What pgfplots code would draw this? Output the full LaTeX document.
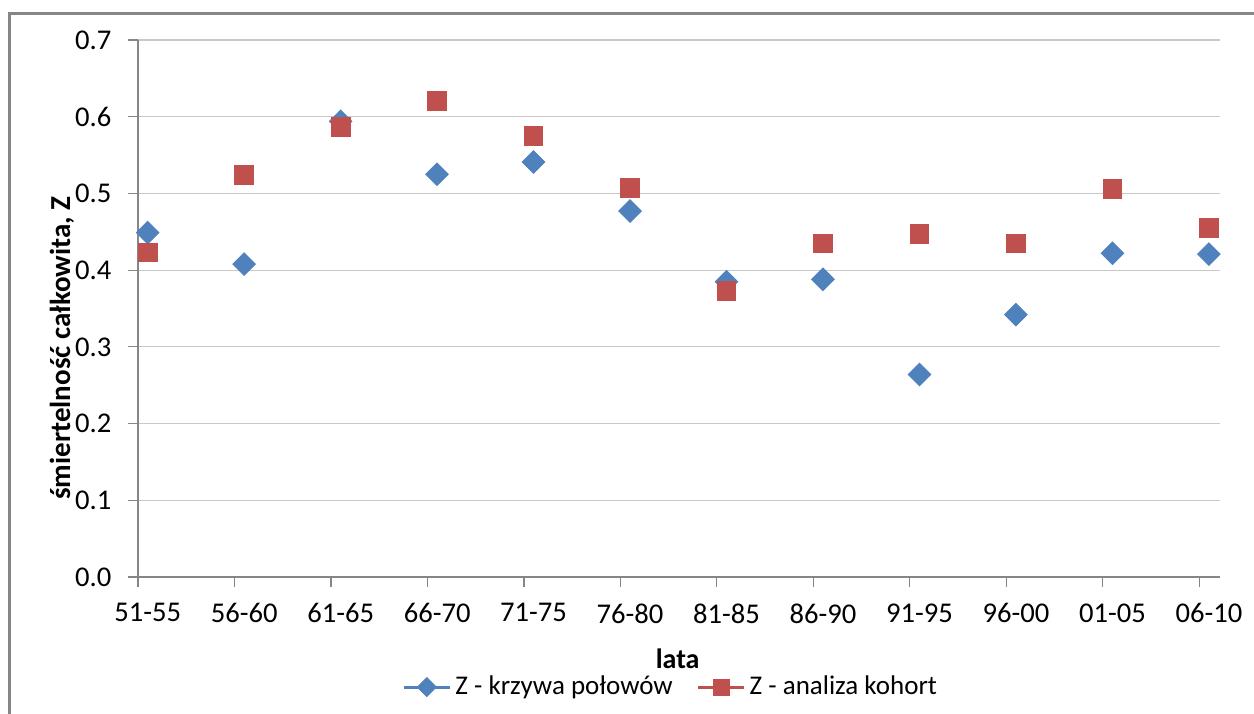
\documentclass[border=0pt]{standalone}
\usepackage{pgfplots}
\pgfplotsset{compat=1.18}
\usepackage{fontspec}
\setmainfont{Carlito}
\definecolor{zblue}{RGB}{79,129,189}
\definecolor{zred}{RGB}{192,80,77}
\definecolor{axgray}{RGB}{134,134,134}
\definecolor{gridgray}{RGB}{200,200,200}
\begin{document}
\begin{tikzpicture}
\useasboundingbox (0,0) rectangle (627pt,-356.5pt);
\draw[axgray, line width=1.1pt] (4.75pt,-360pt) -- (4.75pt,-6.75pt) -- (630pt,-6.75pt);
\begin{axis}[
  at={(69pt,-288.5pt)}, anchor=south west,
  scale only axis, width=540.75pt, height=268.5pt,
  xmin=0, xmax=11.21, ymin=0, ymax=0.7,
  clip=false,
  axis x line*=bottom, axis y line*=left,
  axis line style={axgray, line width=0.6pt, -},
  tick style={axgray, line width=0.6pt},
  tick align=outside, major tick length=4.75pt,
  xtick={0,1,2,3,4,5,6,7,8,9,10,11},
  xticklabels={51-55,56-60,61-65,66-70,71-75,76-80,81-85,86-90,91-95,96-00,01-05,06-10},
  xticklabel style={xshift=4.85pt, yshift=-5pt, font=\fontsize{14.3}{16}\selectfont},
  ytick={0,0.1,0.2,0.3,0.4,0.5,0.6,0.7},
  yticklabel style={/pgf/number format/.cd, fixed, zerofill, precision=1, assume math mode=true, /tikz/.cd, xshift=-5pt, font=\fontsize{14.3}{16}\selectfont},
  ymajorgrids, grid style={gridgray, line width=0.6pt},
  xlabel={\bfseries lata},
  xlabel style={at={(axis description cs:0.499,-0.152)}, anchor=center, font=\fontsize{14}{16}\selectfont},
  ylabel={\bfseries śmiertelność całkowita, Z},
  ylabel style={at={(axis description cs:-0.0703,0.4264)}, anchor=center, rotate=0, font=\fontsize{14.5}{16}\selectfont},
  legend columns=2,
  legend style={at={(0.4935,-0.205)}, anchor=center, draw=none, fill=none,
    font=\fontsize{13.5}{15}\selectfont,
    /tikz/every even column/.append style={column sep=10pt},
    inner sep=0pt},
  legend image code/.code={
    \draw[#1, mark=none, line width=1.5pt] (0pt,0pt) -- (23pt,0pt);
    \draw[#1, line width=0.3pt, scale=0.85] plot coordinates {(13.5pt,0pt)};
  },
]
\addplot[only marks, mark=square*, mark size=4.0pt, mark options={rotate=45, fill=zblue, draw=zblue}, color=zblue] coordinates {
(0.1,0.449) (1.1,0.408) (2.1,0.594) (3.1,0.525) (4.1,0.541) (5.1,0.477)
(6.1,0.385) (7.1,0.388) (8.1,0.264) (9.1,0.342) (10.1,0.422) (11.1,0.421)
};
\addlegendentry{Z - krzywa połowów}
\addplot[only marks, mark=square*, mark size=4.67pt, mark options={fill=zred, draw=zred}, color=zred] coordinates {
(0.1,0.423) (1.1,0.524) (2.1,0.587) (3.1,0.621) (4.1,0.575) (5.1,0.507)
(6.1,0.373) (7.1,0.435) (8.1,0.447) (9.1,0.435) (10.1,0.506) (11.1,0.455)
};
\addlegendentry{Z - analiza kohort}
\end{axis}
\end{tikzpicture}
\end{document}
